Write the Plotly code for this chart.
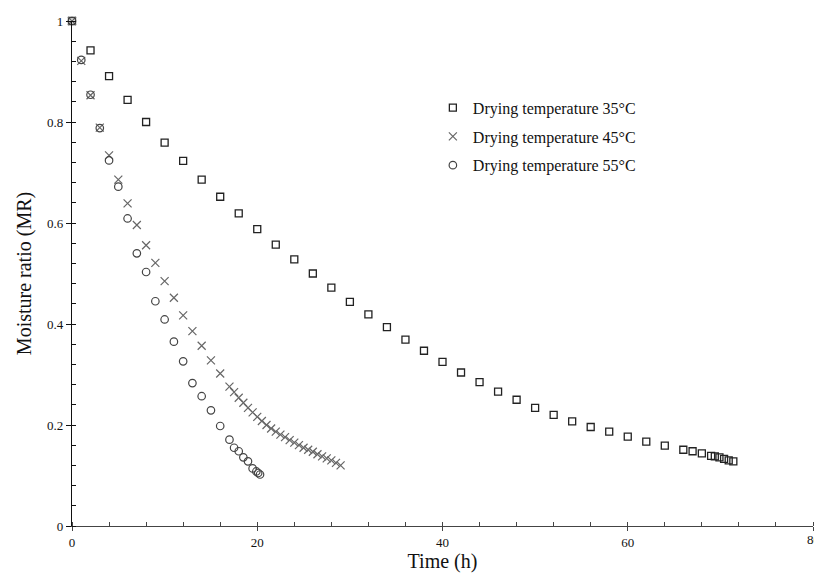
import plotly.graph_objects as go

t35 = [0, 2, 4, 6, 8, 10, 12, 14, 16, 18, 20, 22, 24, 26, 28, 30, 32, 34, 36, 38, 40,
       42, 44, 46, 48, 50, 52, 54, 56, 58, 60, 62, 64, 66, 67, 68, 69, 69.4, 69.9, 70.4, 70.9, 71.4]
mr35 = [1.0, 0.942, 0.891, 0.844, 0.800, 0.759, 0.723, 0.686, 0.652, 0.619, 0.588, 0.557,
        0.528, 0.500, 0.472, 0.444, 0.419, 0.394, 0.369, 0.347, 0.325, 0.304, 0.285, 0.266,
        0.250, 0.234, 0.220, 0.207, 0.196, 0.187, 0.177, 0.167, 0.159, 0.151, 0.148, 0.144,
        0.139, 0.138, 0.136, 0.133, 0.130, 0.128]

t45 = [0, 1, 2, 3, 4, 5, 6, 7, 8, 9, 10, 11, 12, 13, 14, 15, 16,
       17, 17.5, 18, 18.5, 19, 19.5, 20, 20.5, 21, 21.5, 22, 22.5, 23, 23.5, 24, 24.5,
       25, 25.5, 26, 26.5, 27, 27.5, 28, 28.5, 29]
mr45 = [1.0, 0.921, 0.853, 0.789, 0.734, 0.686, 0.639, 0.596, 0.556, 0.521, 0.485, 0.452,
        0.417, 0.386, 0.357, 0.328, 0.302,
        0.276, 0.265, 0.254, 0.244, 0.234, 0.225, 0.216, 0.208, 0.200, 0.193, 0.187, 0.181,
        0.176, 0.170, 0.165, 0.160, 0.155, 0.151, 0.147, 0.142, 0.138, 0.134, 0.130, 0.125, 0.120]

t55 = [0, 1, 2, 3, 4, 5, 6, 7, 8, 9, 10, 11, 12, 13, 14, 15, 16, 17, 17.5, 18, 18.5, 19,
       19.5, 19.9, 20.1, 20.3]
mr55 = [1.0, 0.923, 0.854, 0.788, 0.724, 0.672, 0.609, 0.540, 0.503, 0.445, 0.409, 0.365,
        0.326, 0.283, 0.257, 0.229, 0.198, 0.171, 0.155, 0.148, 0.136, 0.128, 0.114, 0.108,
        0.105, 0.102]

x_ticks = [0, 20, 40, 60, 80]

names = ["Drying temperature 35°C", "Drying temperature 45°C", "Drying temperature 55°C"]

font = "Liberation Serif, Times New Roman, serif"

fig = go.Figure()
fig.add_trace(go.Scatter(x=t35, y=mr35, mode="markers", name=names[0], legendgroup="a",
                         cliponaxis=False,
                         marker=dict(symbol="square-open", size=7, color="#222222",
                                     line=dict(width=1.3, color="#222222"))))
fig.add_trace(go.Scatter(x=t45, y=mr45, mode="markers", name=names[1], legendgroup="b",
                         cliponaxis=False,
                         marker=dict(symbol="x-thin-open", size=8, color="#666666",
                                     line=dict(width=1.2, color="#666666"))))
fig.add_trace(go.Scatter(x=t55, y=mr55, mode="markers", name=names[2], legendgroup="c",
                         cliponaxis=False,
                         marker=dict(symbol="circle-open", size=7.5, color="#444444",
                                     line=dict(width=1.2, color="#444444"))))

fig.update_layout(
    width=814, height=573,
    margin=dict(l=72, r=1, t=21, b=47, autoexpand=False),
    plot_bgcolor="white", paper_bgcolor="white",
    font=dict(family=font, color="#111111", size=13),
    showlegend=True,
    legend=dict(x=0.487, y=0.862, xanchor="left", yanchor="top",
                font=dict(family=font, size=16, color="#111111"),
                bgcolor="rgba(0,0,0,0)", tracegroupgap=5, itemwidth=30,
                traceorder="grouped"),
)
# last tick label ("80") sits at the page edge, partly cut off as in the reference
fig.add_annotation(x=x_ticks[-1], y=0, xref="x", yref="y", text=str(x_ticks[-1]),
                   showarrow=False, yanchor="top", yshift=-4,
                   font=dict(family=font, size=13, color="#111111"))
fig.update_xaxes(range=[0, 80], tickvals=x_ticks,
                 ticktext=[str(v) for v in x_ticks[:-1]] + [""],
                 showgrid=False, zeroline=False, automargin=False,
                 showline=True, linecolor="#444444", linewidth=1.2,
                 ticks="outside", ticklen=4, tickcolor="#444444",
                 minor=dict(dtick=4, tick0=0, ticks="inside", ticklen=4, tickcolor="#444444"),
                 tickfont=dict(family=font, size=13),
                 title=dict(text="Time (h)", font=dict(family=font, size=20), standoff=4))
fig.update_yaxes(range=[0, 1], dtick=0.2, tick0=0, showgrid=False, zeroline=False,
                 automargin=False,
                 showline=True, linecolor="#111111", linewidth=1.2,
                 ticks="outside", ticklen=5, tickcolor="#111111",
                 minor=dict(dtick=0.04, ticks="inside", ticklen=4, tickcolor="#111111"),
                 tickfont=dict(family=font, size=13),
                 title=dict(text="Moisture ratio (MR)", font=dict(family=font, size=20), standoff=10))

fig.write_html("out.html", config={"displayModeBar": False},
               post_script="document.body.style.margin='0';document.body.style.overflow='hidden';")
